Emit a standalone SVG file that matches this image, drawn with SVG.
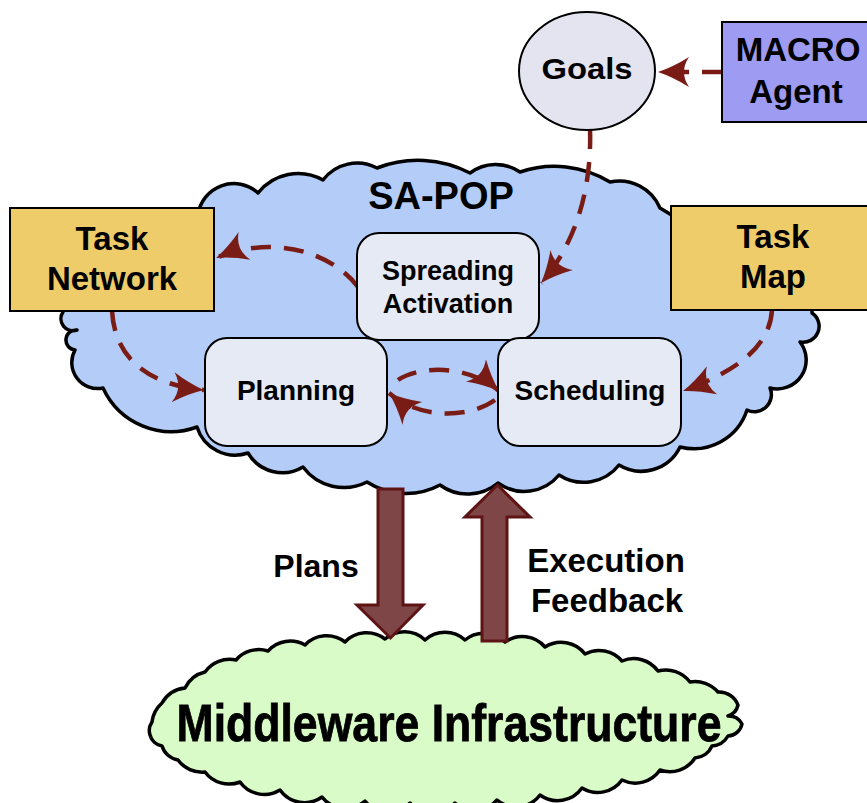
<svg xmlns="http://www.w3.org/2000/svg" width="867" height="803" viewBox="0 0 867 803">
<style>
text{font-family:"Liberation Sans",Arial,sans-serif;font-weight:bold;fill:#000;text-anchor:middle}
.dash{fill:none;stroke:#7A1C16;stroke-width:4.5;stroke-dasharray:20 13;marker-end:url(#dart)}
.bx{stroke:#000;stroke-width:2}
.tb{fill:#EFCC6A}
.inner{fill:#E6EAF4}
.block{fill:#7E4646;stroke:#5E1414;stroke-width:3;stroke-linejoin:miter}
.cloud{stroke:#000;stroke-width:3.5;stroke-linejoin:round}
</style>
<defs>
<marker id="dart" markerWidth="32" markerHeight="32" refX="31" refY="16" orient="auto" markerUnits="userSpaceOnUse" viewBox="0 0 32 32">
<path d="M31,16 Q16,11 0,1 Q10,16 0,31 Q16,21 31,16 Z" fill="#7A1C16"/>
</marker>
</defs>
<rect width="867" height="803" fill="#fff"/>

<g id="sapop">
<path class="cloud" fill="#B3CCF8" d="M63 305 L198 215 A36 36 0 0 1 258 193 A51 51 0 0 1 323 180 A43 43 0 0 1 377 168 A113 113 0 0 1 470 173 A43 43 0 0 1 520 172 A106 106 0 0 1 610 182 A44 44 0 0 1 660 208 L812 300 L812 313 A16 16 0 0 1 800 342 A29 29 0 0 1 770 388 A17 17 0 0 1 747 410 A56 56 0 0 1 680 447 A43 43 0 0 1 619 465 A45 45 0 0 1 559 475 A45 45 0 0 1 498 483 A47 47 0 0 1 440 485 A72 72 0 0 1 367 482 A51 51 0 0 1 303 467 A40 40 0 0 1 248 453 A40 40 0 0 1 197 427 A75 75 0 0 1 103 388 A26 26 0 0 1 75 350 A10 10 0 0 1 77 330 A12 12 0 0 1 63 312 Z"/>
<text x="441" y="209" font-size="38">SA-POP</text>
</g>

<g id="middleware">
<path class="cloud" fill="#D9FBC8" d="M152 722 A30 30 0 0 1 162 703 A30 30 0 0 1 185 688 A30 30 0 0 1 205 672 A30 30 0 0 1 236 660 A30 30 0 0 1 268 651 A30 30 0 0 1 305 645 A30 30 0 0 1 345 642 A30 30 0 0 1 385 639 A30 30 0 0 1 425 640 A30 30 0 0 1 465 640 A30 30 0 0 1 505 642 A30 30 0 0 1 545 647 A30 30 0 0 1 585 654 A30 30 0 0 1 622 661 A30 30 0 0 1 658 671 A30 30 0 0 1 690 682 A30 30 0 0 1 718 692 A20 20 0 0 1 738 705 A15 15 0 0 1 728 716 A15 15 0 0 1 742 724 A15 15 0 0 1 728 736 A20 20 0 0 1 712 746 A20 20 0 0 1 695 758 A30 30 0 0 1 660 770 A30 30 0 0 1 622 780 A30 30 0 0 1 582 788 A30 30 0 0 1 540 795 A30 30 0 0 1 497 800 A30 30 0 0 1 455 803 A30 30 0 0 1 410 803 A30 30 0 0 1 365 801 A30 30 0 0 1 322 797 A30 30 0 0 1 280 790 A30 30 0 0 1 240 782 A30 30 0 0 1 205 772 A30 30 0 0 1 178 760 A20 20 0 0 1 162 746 A15 15 0 0 1 150 735 A15 15 0 0 1 152 722 Z"/>
<text x="449" y="741" font-size="52" textLength="545" lengthAdjust="spacingAndGlyphs" stroke="#000" stroke-width="0.8">Middleware Infrastructure</text>
</g>

<g id="connectors">
<path class="block" d="M378 489 L403 489 L403 605 L423 605 L390.5 638 L357 605 L378 605 Z"/>
<path class="block" d="M482 641 L482 517 L465 517 L497.5 485 L530 517 L507 517 L507 641 Z"/>
<path class="dash" d="M722 72 L658 72"/>
<path class="dash" d="M590 129 C592 190 575 245 541 283"/>
<path class="dash" d="M358 287 C330 250 270 235 216 258"/>
<path class="dash" d="M112 311 C115 360 150 385 204 390"/>
<path class="dash" d="M398 380 C420 365 470 365 499 391"/>
<path class="dash" d="M495 400 C470 418 420 420 389 393"/>
<path class="dash" d="M772 310 C770 345 740 370 683 391"/>
</g>

<g id="goals">
<ellipse class="bx" cx="587" cy="71" rx="68" ry="59" fill="#E3E4EF"/>
<text x="587" y="79" font-size="30" textLength="91" lengthAdjust="spacingAndGlyphs">Goals</text>
</g>

<g id="macro">
<rect class="bx" x="722" y="22" width="150" height="100" fill="#9D9BF2"/>
<text x="798" y="61" font-size="33">MACRO</text>
<text x="796" y="103" font-size="33">Agent</text>
</g>

<g id="tasknetwork">
<rect class="bx tb" x="10" y="208" width="204" height="103"/>
<text x="112" y="250" font-size="33">Task</text>
<text x="112" y="290" font-size="33">Network</text>
</g>

<g id="taskmap">
<rect class="bx tb" x="671" y="206" width="200" height="104"/>
<text x="773" y="248" font-size="33">Task</text>
<text x="773" y="288" font-size="33">Map</text>
</g>

<g id="spreading">
<rect class="bx inner" x="357" y="233" width="182" height="107" rx="22"/>
<text x="448" y="280" font-size="27">Spreading</text>
<text x="448" y="313" font-size="27">Activation</text>
</g>

<g id="planning">
<rect class="bx inner" x="205" y="338" width="182" height="108" rx="22"/>
<text x="296" y="400" font-size="28">Planning</text>
</g>

<g id="scheduling">
<rect class="bx inner" x="498" y="338" width="183" height="108" rx="22"/>
<text x="590" y="400" font-size="28">Scheduling</text>
</g>

<g id="labels">
<text x="316" y="577" font-size="32">Plans</text>
<text x="606" y="572" font-size="33">Execution</text>
<text x="607" y="612" font-size="33">Feedback</text>
</g>
</svg>
